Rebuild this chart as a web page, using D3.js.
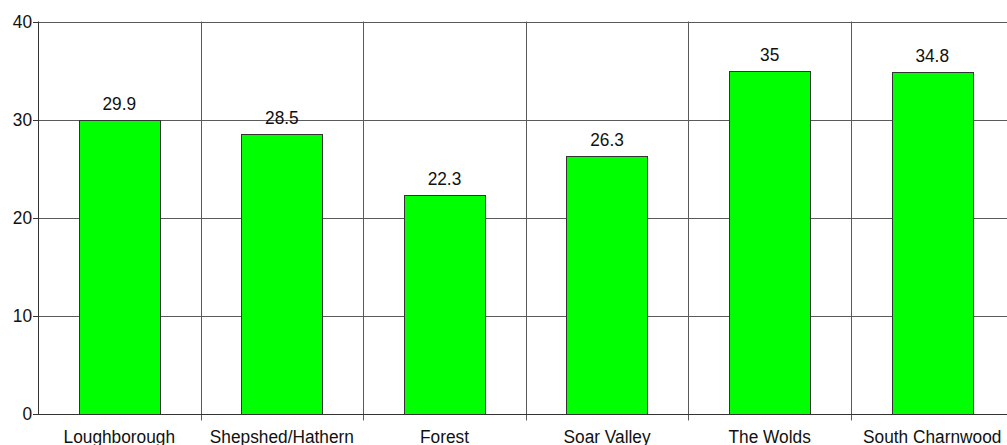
<!DOCTYPE html>
<html><head><meta charset="utf-8">
<script src="https://cdn.jsdelivr.net/npm/d3@7"></script>
<style>html,body{margin:0;padding:0;background:#fff;overflow:hidden}</style>
</head><body><svg id="c" width="1007" height="445"></svg>
<script>
const categories = ["Loughborough","Shepshed/Hathern","Forest","Soar Valley","The Wolds","South Charnwood"];
const values = [29.9, 28.5, 22.3, 26.3, 35, 34.8];
const valueLabels = ["29.9","28.5","22.3","26.3","35","34.8"];
const yTicks = [0, 10, 20, 30, 40];

const svg = d3.select("#c");
const L = 38, R = 1013.5, T = 21.5, B = 413.5;
const x = d3.scaleBand().domain(categories).range([L, R]).paddingInner(0).paddingOuter(0);
const y = d3.scaleLinear().domain([0, 40]).range([B, T]);
const FONT = "'Liberation Sans', Arial, sans-serif";
const FS = 19, SX = 0.91;
const gridColor = "#5a5a5a";

// horizontal grid
svg.append("g").selectAll("line").data(yTicks.filter(d => d > 0)).join("line")
  .attr("x1", L).attr("x2", R).attr("y1", d => Math.round(y(d)) + 0.5).attr("y2", d => Math.round(y(d)) + 0.5)
  .attr("stroke", gridColor).attr("stroke-width", 1);

// vertical grid at band boundaries
const bounds = categories.slice(1).map(c => x(c));
svg.append("g").selectAll("line").data(bounds).join("line")
  .attr("x1", d => Math.round(d) + 0.5).attr("x2", d => Math.round(d) + 0.5)
  .attr("y1", T).attr("y2", B + 7)
  .attr("stroke", gridColor).attr("stroke-width", 1);

// bars
svg.append("g").selectAll("rect").data(values).join("rect")
  .attr("x", (d, i) => Math.round(x(categories[i]) + x.bandwidth() * 0.25) + 0.5)
  .attr("width", Math.round(x.bandwidth() * 0.5))
  .attr("y", d => Math.round(y(d)) + 0.5)
  .attr("height", d => Math.round(B) - Math.round(y(d)))
  .attr("fill", "#00ff00").attr("stroke", "#333").attr("stroke-width", 1);

// axes lines
svg.append("line").attr("x1", L + 0.5).attr("x2", L + 0.5).attr("y1", T).attr("y2", B + 1)
  .attr("stroke", "#333");
svg.append("line").attr("x1", L).attr("x2", R).attr("y1", Math.round(B) + 0.5).attr("y2", Math.round(B) + 0.5)
  .attr("stroke", "#333");

// y ticks
svg.append("g").selectAll("line").data(yTicks).join("line")
  .attr("x1", L - 5).attr("x2", L + 1).attr("y1", d => Math.round(y(d)) + 0.5).attr("y2", d => Math.round(y(d)) + 0.5)
  .attr("stroke", "#333");

// y labels
svg.append("g").selectAll("text").data(yTicks).join("text")
  .attr("transform", d => `translate(${L - 6},${y(d) + 6.5}) scale(${SX},1)`)
  .attr("text-anchor", "end").attr("font-family", FONT).attr("font-size", FS).attr("fill", "#111")
  .text(d => d);

// value labels
svg.append("g").selectAll("text").data(values).join("text")
  .attr("transform", (d, i) => `translate(${x(categories[i]) + x.bandwidth() / 2},${y(d) - 10}) scale(${SX},1)`)
  .attr("text-anchor", "middle").attr("font-family", FONT).attr("font-size", FS).attr("fill", "#111")
  .text((d, i) => valueLabels[i]);

// category labels
svg.append("g").selectAll("text").data(categories).join("text")
  .attr("transform", d => `translate(${x(d) + x.bandwidth() / 2},${B + 29}) scale(${SX},1)`)
  .attr("text-anchor", "middle").attr("font-family", FONT).attr("font-size", FS).attr("fill", "#111")
  .text(d => d);
</script></body></html>
